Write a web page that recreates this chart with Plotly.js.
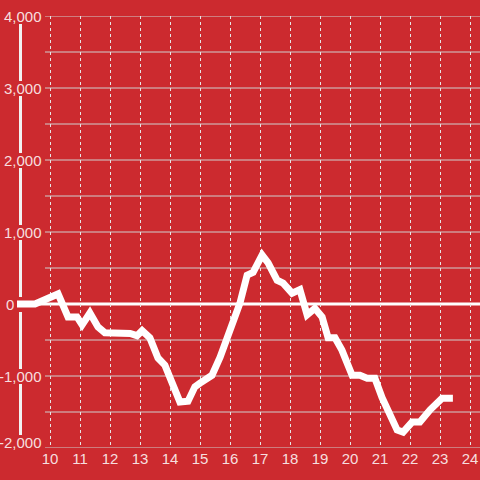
<!DOCTYPE html>
<html>
<head>
<meta charset="utf-8">
<script src="https://cdn.plot.ly/plotly-3.0.1.min.js"></script>
<style>html,body{margin:0;padding:0;background:#cc2a2f;}#chart{width:480px;height:480px;}</style>
</head>
<body>
<div id="chart"></div>
<script>
// Data
const xValues = [8.9, 9.5, 10.27, 10.6, 10.9, 11.07, 11.33, 11.6, 11.83, 12.67, 12.9, 13.07, 13.33, 13.6, 13.83, 14.33, 14.6, 14.83, 15.0, 15.4, 15.67, 16.07, 16.33, 16.57, 16.77, 17.07, 17.27, 17.57, 17.77, 18.07, 18.33, 18.57, 18.83, 19.07, 19.27, 19.5, 19.73, 20.07, 20.33, 20.57, 20.83, 21.07, 21.27, 21.57, 21.77, 22.07, 22.33, 22.67, 23.07, 23.43];
const yValues = [0, 0, 140, -180, -180, -290, -125, -320, -400, -410, -440, -370, -470, -750, -850, -1360, -1350, -1150, -1100, -990, -740, -320, 10, 400, 440, 680, 570, 330, 290, 150, 200, -150, -60, -180, -470, -470, -640, -990, -990, -1030, -1030, -1300, -1470, -1750, -1780, -1640, -1640, -1470, -1310, -1310];
const xTickVals = [10, 11, 12, 13, 14, 15, 16, 17, 18, 19, 20, 21, 22, 23, 24];
const yLabelVals = [4000, 3000, 2000, 1000, 0, -1000, -2000];
const yGridVals = [-2000, -1500, -1000, -500, 0, 500, 1000, 1500, 2000, 2500, 3000, 3500, 4000];

const BG = '#cc2a2f';
const TXT = 'rgba(255,255,255,0.86)';
const W = 480, ML = 17, PW = W - ML;
const PT = 16, PH = 432;
const yMin = -2000, yMax = 4000;
const pxToPaperX = px => (px - ML) / PW;
const valToPaperY = v => (v - yMin) / (yMax - yMin);

const shapes = [];
// horizontal grid lines
yGridVals.forEach(v => {
  shapes.push({type:'line', xref:'paper', yref:'y', x0:pxToPaperX(45), x1:1, y0:v, y1:v,
    line:{color:'#cfcfcf', width:1}, layer:'below'});
});
// zero line
shapes.push({type:'line', xref:'paper', yref:'y', x0:0, x1:1, y0:0, y1:0,
  line:{color:'#ffffff', width:3}, layer:'below'});
// vertical axis line broken by labels
const gapPaper = 7 / PH;
const labelCenters = yLabelVals.map(v => valToPaperY(v) + (v === yMin ? 6 / PH : 0));
const axX = pxToPaperX(20.5);
for (let i = 0; i < labelCenters.length - 1; i++) {
  const top = labelCenters[i] - gapPaper - 1 / PH;
  const bot = labelCenters[i + 1] + gapPaper;
  shapes.push({type:'line', xref:'paper', yref:'paper', x0:axX, x1:axX, y0:bot, y1:top,
    line:{color:'#f2f2f2', width:3}, layer:'above'});
}

const annotations = yLabelVals.map(v => ({
  xref:'paper', yref:'y', x:pxToPaperX(v === 0 ? 16 : 43.5), y:v, xanchor:'right', yanchor:'middle',
  yshift: v === yMin ? 6 : 0,
  text: v.toLocaleString('en-US'), showarrow:false,
  font:{family:'Liberation Sans, Arial, sans-serif', size:15, color:TXT}
}));

const trace = {
  x: xValues, y: yValues, type:'scatter', mode:'lines',
  line:{color:'#ffffff', width:7}, hoverinfo:'skip'
};

const layout = {
  width: 480, height: 480,
  margin: {l: ML, r: 0, t: PT, b: 480 - PT - PH, pad: 0},
  paper_bgcolor: BG, plot_bgcolor: BG,
  showlegend: false,
  xaxis: {
    range: [10 - 33/30, 10 + 430/30], tickvals: xTickVals, ticktext: xTickVals.map(String),
    showgrid: true, gridcolor: '#e6e6e6', gridwidth: 1, griddash: '3px,3px',
    zeroline: false, showline: false, ticks: '', 
    tickfont: {family:'Liberation Sans, Arial, sans-serif', size:15, color:TXT}, fixedrange: true
  },
  yaxis: {
    range: [yMin, yMax], showgrid: false, zeroline: false, showline: false,
    showticklabels: false, ticks: '', fixedrange: true
  },
  shapes: shapes,
  annotations: annotations
};

Plotly.newPlot('chart', [trace], layout, {displayModeBar: false, staticPlot: true});
</script>
</body>
</html>
